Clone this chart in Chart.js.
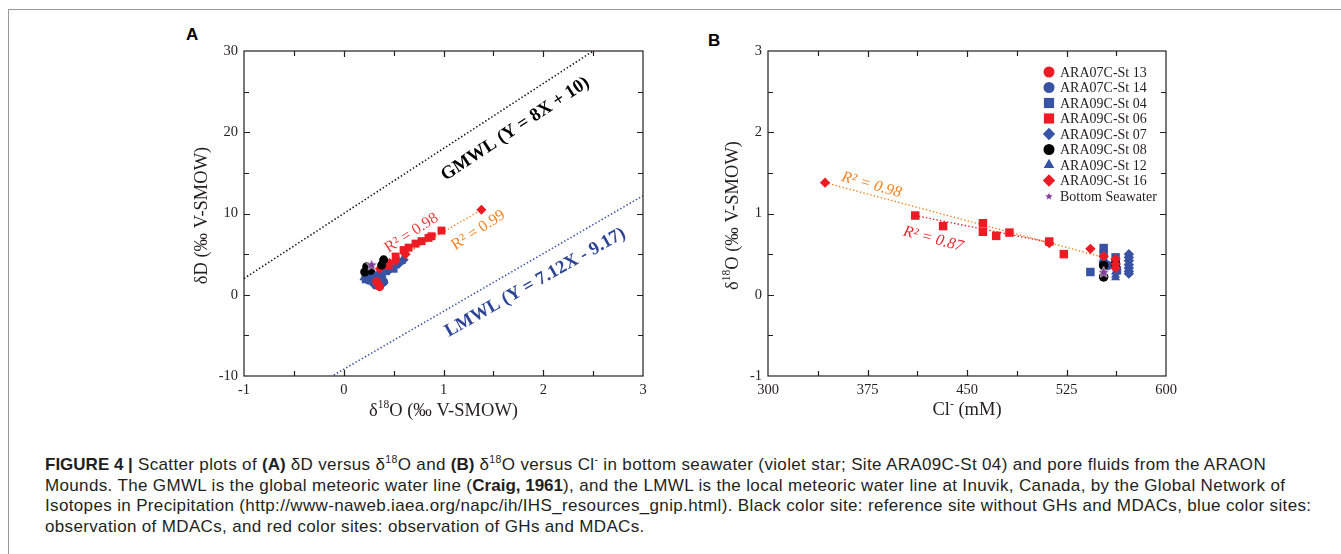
<!DOCTYPE html>
<html>
<head>
<meta charset="utf-8">
<script src="https://cdn.jsdelivr.net/npm/chart.js@4"></script>
<style>
  body { margin: 0; background: #fff; width: 1341px; height: 554px; overflow: hidden; position: relative;
         font-family: "Liberation Sans", Arial, sans-serif; }
  #frame { position: absolute; left: 8px; top: 9px; width: 1400px; height: 600px; border: 1px solid #9a9a9a; }
  canvas { position: absolute; top: 0; }
  #chartA { left: 150px; }
  #chartB { left: 680px; }
  .panel { position: absolute; font-weight: bold; font-size: 17px; color: #000; }
  #caption { position: absolute; left: 45px; top: 455px; font-size: 17px; letter-spacing: 0.35px; line-height: 20.6px; color: #231f20; white-space: nowrap; }
  #caption b { letter-spacing: 0; }
  #caption sup { font-size: 0.62em; line-height: 0; }
</style>
</head>
<body>
<div id="frame"></div>
<div class="panel" style="left:186px;top:25px">A</div>
<div class="panel" style="left:708px;top:31px">B</div>
<canvas id="chartA" width="520" height="430"></canvas>
<canvas id="chartB" width="520" height="430"></canvas>
<div id="caption">
<b>FIGURE 4 |</b> Scatter plots of <b>(A)</b> δD versus δ<sup>18</sup>O and <b>(B)</b> δ<sup>18</sup>O versus Cl<sup>-</sup> in bottom seawater (violet star; Site ARA09C-St 04) and pore fluids from the ARAON<br>
Mounds. The GMWL is the global meteoric water line (<b>Craig, 1961</b>), and the LMWL is the local meteoric water line at Inuvik, Canada, by the Global Network of<br>
Isotopes in Precipitation (http://www-naweb.iaea.org/napc/ih/IHS_resources_gnip.html). Black color site: reference site without GHs and MDACs, blue color sites:<br>
observation of MDACs, and red color sites: observation of GHs and MDACs.
</div>
<script>
const SERIF = '"Liberation Serif", "Times New Roman", serif';
const INK = '#231f20';
const RED = '#ed1c24', BLUE = '#3953a4', ORANGE = '#f58220', PURPLE = '#7f3f98';

// legend order (panel B)
const siteNames = ['ARA07C-St 13', 'ARA07C-St 14', 'ARA09C-St 04', 'ARA09C-St 06', 'ARA09C-St 07',
                   'ARA09C-St 08', 'ARA09C-St 12', 'ARA09C-St 16', 'Bottom Seawater'];

// ---- Panel A: δ18O (x) vs δD (y)
const A_St13_d18O = [0.36, 0.33];
const A_St13_dD   = [1.0, 1.6];
const A_St14_d18O = [0.25, 0.30, 0.28, 0.35, 0.32, 0.38, 0.40, 0.30];
const A_St14_dD   = [1.8, 1.5, 2.3, 1.9, 1.2, 2.6, 1.6, 2.0];
const A_St04_d18O = [0.22, 0.28, 0.35, 0.42, 0.50, 0.30];
const A_St04_dD   = [1.9, 2.2, 2.4, 2.9, 3.2, 1.6];
const A_St06_d18O = [0.45, 0.52, 0.60, 0.65, 0.72, 0.78, 0.85, 0.88, 0.98];
const A_St06_dD   = [3.6, 4.7, 5.5, 5.8, 6.3, 6.6, 7.0, 7.2, 7.9];
const A_St07_d18O = [0.27, 0.33, 0.38, 0.45, 0.55, 0.60, 0.40];
const A_St07_dD   = [2.0, 1.9, 2.2, 3.0, 3.8, 4.3, 1.5];
const A_St08_d18O = [0.21, 0.23, 0.38, 0.40, 0.27];
const A_St08_dD   = [2.8, 3.45, 3.65, 4.3, 3.0];
const A_St12_d18O = [0.20, 0.25, 0.35, 0.48, 0.52, 0.58];
const A_St12_dD   = [2.1, 2.5, 2.7, 3.4, 3.6, 4.1];
const A_St16_d18O = [0.36, 0.46, 0.52, 0.62, 1.38];
const A_St16_dD   = [3.2, 3.9, 4.2, 5.0, 10.45];
const A_sw_d18O = [0.28];
const A_sw_dD   = [3.7];
// meteoric water lines and fits (end points)
const gmwl_x = [-1, 2.5],  gmwl_y = [2, 30];
const lmwl_x = [-0.1, 3],  lmwl_y = [-9.88, 12.19];
const A_fit06_x = [0.40, 0.98], A_fit06_y = [3.3, 7.9];
const A_fit16_x = [0.45, 1.38], A_fit16_y = [3.8, 10.45];

// ---- Panel B: Cl- (x) vs δ18O (y)
const B_St14_Cl = [553, 556];
const B_St14_d18O = [0.40, 0.36];
const B_St04_Cl = [543, 553, 553, 562, 562, 563];
const B_St04_d18O = [0.28, 0.575, 0.50, 0.46, 0.40, 0.30];
const B_St06_Cl = [411, 432, 462, 462, 472, 482, 512, 523];
const B_St06_d18O = [0.975, 0.845, 0.88, 0.775, 0.725, 0.765, 0.655, 0.50];
const B_St07_Cl = [572, 572, 572, 572, 572, 572, 572];
const B_St07_d18O = [0.50, 0.46, 0.42, 0.37, 0.33, 0.29, 0.26];
const B_St08_Cl = [553, 553, 562];
const B_St08_d18O = [0.36, 0.22, 0.38];
const B_St12_Cl = [562, 562, 562, 562];
const B_St12_d18O = [0.35, 0.28, 0.24, 0.21];
const B_St16_Cl = [343, 512, 543, 553, 562, 562, 562];
const B_St16_d18O = [1.38, 0.635, 0.565, 0.475, 0.44, 0.38, 0.33];
const B_sw_Cl = [553];
const B_sw_d18O = [0.28];
const B_fit06_x = [411, 512], B_fit06_y = [0.975, 0.645];
const B_fit16_x = [343, 553], B_fit16_y = [1.38, 0.46];

function makeStar(size, color) {
  const c = document.createElement('canvas');
  c.width = c.height = size;
  const g = c.getContext('2d');
  const R = size / 2 - 0.5, r = R * 0.45;
  g.beginPath();
  for (let i = 0; i < 10; i++) {
    const ang = -Math.PI / 2 + i * Math.PI / 5, rad = i % 2 ? r : R;
    g.lineTo(size / 2 + rad * Math.cos(ang), size / 2 + rad * Math.sin(ang) + 0.5);
  }
  g.closePath();
  g.fillStyle = color; g.fill();
  g.strokeStyle = 'rgba(255,255,255,0.8)'; g.lineWidth = 0.8; g.stroke();
  return c;
}

const siteStyle = {
  'ARA07C-St 13': { style: 'circle', color: RED },
  'ARA07C-St 14': { style: 'circle', color: BLUE },
  'ARA09C-St 04': { style: 'rect', color: BLUE },
  'ARA09C-St 06': { style: 'rect', color: RED },
  'ARA09C-St 07': { style: 'rectRot', color: BLUE },
  'ARA09C-St 08': { style: 'circle', color: '#000' },
  'ARA09C-St 12': { style: 'triangle', color: BLUE },
  'ARA09C-St 16': { style: 'rectRot', color: RED },
  'Bottom Seawater': { style: 'star', color: PURPLE }
};
const sizeA = { circle: 4.5, rect: 5.6, rectRot: 5, triangle: 5 };
const sizeB = { circle: 4.8, rect: 6, rectRot: 5.2, triangle: 5.2 };
const legendSize = { circle: 5.5, rect: 7.2, rectRot: 6.2, triangle: 6.2 };

function pts(xs, ys) { return xs.map((x, i) => ({ x, y: ys[i] })); }

function markers(name, xs, ys, sizes, starPx) {
  const s = siteStyle[name];
  const style = s.style === 'star' ? makeStar(starPx, s.color) : s.style;
  return { label: name, data: pts(xs, ys), pointStyle: style, pointRadius: sizes[s.style] || 5,
           backgroundColor: s.color, borderColor: s.color, borderWidth: 0, showLine: false };
}

function dotted(xs, ys, color, width) {
  return { data: pts(xs, ys), showLine: true, borderColor: color, borderWidth: width || 1.4,
           borderDash: [1.4, 2.2], pointRadius: 0, fill: false };
}

function linearAxis(min, max, step, pad, fit) {
  return {
    type: 'linear', min, max,
    ticks: { stepSize: step, padding: pad, color: INK, maxRotation: 0, font: { family: SERIF, size: 14.5 } },
    grid: { display: false, drawTicks: false },
    border: { display: false },
    afterFit: fit
  };
}

// text with superscript parts: [[text, sup], ...]
function drawRich(ctx, parts, cx, cy, size, style) {
  const f = (sz) => `${style || ''} ${sz}px ${SERIF}`;
  let w = 0;
  parts.forEach(([t, sup]) => { ctx.font = f(sup ? size * 0.62 : size); w += ctx.measureText(t).width; });
  let x = cx - w / 2;
  ctx.textAlign = 'left';
  ctx.textBaseline = 'middle';
  parts.forEach(([t, sup]) => {
    ctx.font = f(sup ? size * 0.62 : size);
    ctx.fillText(t, x, sup ? cy - size * 0.3 : cy);
    x += ctx.measureText(t).width;
  });
}

const axesFrame = {
  id: 'axesFrame',
  afterDraw(chart, args, o) {
    const { ctx, chartArea: a, scales } = chart;
    ctx.save();
    ctx.strokeStyle = INK;
    ctx.lineWidth = 1.2;
    ctx.strokeRect(a.left, a.top, a.right - a.left, a.bottom - a.top);
    // inward ticks on all four sides
    const tickMarks = (scale, horiz) => {
      const vals = scale.ticks.map(t => t.value);
      const marks = [];
      vals.forEach((v, i) => {
        if (i > 0 && i < vals.length - 1) marks.push([v, 6]);
        if (i < vals.length - 1) marks.push([(v + vals[i + 1]) / 2, 5]);
      });
      ctx.beginPath();
      marks.forEach(([v, len]) => {
        const p = Math.round(scale.getPixelForValue(v)) + 0.5;
        if (horiz) {
          ctx.moveTo(p, a.bottom); ctx.lineTo(p, a.bottom - len);
          ctx.moveTo(p, a.top); ctx.lineTo(p, a.top + len);
        } else {
          ctx.moveTo(a.left, p); ctx.lineTo(a.left + len, p);
          ctx.moveTo(a.right, p); ctx.lineTo(a.right - len, p);
        }
      });
      ctx.stroke();
    };
    tickMarks(scales.x, true);
    tickMarks(scales.y, false);

    // axis titles
    ctx.fillStyle = INK;
    drawRich(ctx, o.xTitle, (a.left + a.right) / 2, a.bottom + o.xTitleGap, 18.5);
    ctx.save();
    ctx.translate(a.left - o.yTitleGap, (a.top + a.bottom) / 2 + 2);
    ctx.rotate(-Math.PI / 2);
    drawRich(ctx, o.yTitle, 0, 0, 18.5);
    ctx.restore();

    // rotated annotations anchored in data space
    o.notes.forEach(n => {
      ctx.save();
      ctx.translate(scales.x.getPixelForValue(n.x), scales.y.getPixelForValue(n.y));
      ctx.rotate(n.angle * Math.PI / 180);
      ctx.fillStyle = n.color;
      ctx.font = `${n.style} ${n.size}px ${SERIF}`;
      ctx.textAlign = 'center';
      ctx.textBaseline = 'middle';
      ctx.fillText(n.text, 0, 0);
      ctx.restore();
    });

    // legend
    if (o.legend) {
      const L = o.legend;
      siteNames.forEach((name, i) => {
        const s = siteStyle[name];
        const y = a.top + L.top + i * L.step;
        const x = a.right - L.right;
        ctx.fillStyle = s.color;
        const style = s.style === 'star' ? makeStar(10, s.color) : s.style;
        Chart.helpers.drawPoint(ctx, { pointStyle: style, radius: legendSize[s.style] || 5, borderWidth: 0, rotation: 0 }, x, y);
        ctx.fillStyle = INK;
        ctx.font = `14px ${SERIF}`;
        ctx.textAlign = 'left';
        ctx.textBaseline = 'middle';
        ctx.fillText(name, x + 11, y + 1);
      });
    }
    ctx.restore();
  }
};

const baseOptions = (xAxis, yAxis, pad, frame) => ({
  responsive: false,
  animation: false,
  layout: { padding: pad },
  scales: { x: xAxis, y: yAxis },
  plugins: { legend: { display: false }, tooltip: { enabled: false }, axesFrame: frame }
});

// ---- Chart A
new Chart(document.getElementById('chartA'), {
  type: 'scatter',
  plugins: [axesFrame],
  data: {
    datasets: [
      markers('Bottom Seawater', A_sw_d18O, A_sw_dD, sizeA, 13),
      markers('ARA09C-St 08', A_St08_d18O, A_St08_dD, sizeA),
      markers('ARA09C-St 16', A_St16_d18O, A_St16_dD, sizeA),
      markers('ARA09C-St 06', A_St06_d18O, A_St06_dD, sizeA),
      markers('ARA07C-St 13', A_St13_d18O, A_St13_dD, sizeA),
      markers('ARA07C-St 14', A_St14_d18O, A_St14_dD, sizeA),
      markers('ARA09C-St 04', A_St04_d18O, A_St04_dD, sizeA),
      markers('ARA09C-St 07', A_St07_d18O, A_St07_dD, sizeA),
      markers('ARA09C-St 12', A_St12_d18O, A_St12_dD, sizeA),
      dotted(A_fit16_x, A_fit16_y, ORANGE),
      dotted(A_fit06_x, A_fit06_y, RED),
      dotted(gmwl_x, gmwl_y, '#111', 1.6),
      dotted(lmwl_x, lmwl_y, BLUE, 1.6)
    ]
  },
  options: baseOptions(
    linearAxis(-1, 3, 1, 5, s => { s.height = 54; }),
    linearAxis(-10, 30, 10, 6, s => { s.width = 94; }),
    { top: 51, right: 27, left: 0, bottom: 0 },
    {
      xTitle: [['δ'], ['18', true], ['O (‰ V-SMOW)']], xTitleGap: 35,
      yTitle: [['δD (‰ V-SMOW)']], yTitleGap: 42,
      notes: [
        { text: 'GMWL (Y = 8X + 10)', x: 1.72, y: 20.4, angle: -33.5, color: '#000', style: 'bold', size: 18.5 },
        { text: 'LMWL (Y = 7.12X - 9.17)', x: 1.92, y: 1.5, angle: -29.5, color: '#2e4496', style: 'bold', size: 18.5 },
        { text: 'R² = 0.98', x: 0.68, y: 7.6, angle: -33, color: '#ef3b3b', style: '', size: 16 },
        { text: 'R² = 0.99', x: 1.35, y: 7.95, angle: -33, color: ORANGE, style: '', size: 16 }
      ]
    })
});

// ---- Chart B
new Chart(document.getElementById('chartB'), {
  type: 'scatter',
  plugins: [axesFrame],
  data: {
    datasets: [
      markers('Bottom Seawater', B_sw_Cl, B_sw_d18O, sizeB, 13),
      markers('ARA09C-St 16', B_St16_Cl, B_St16_d18O, sizeB),
      markers('ARA09C-St 08', B_St08_Cl, B_St08_d18O, sizeB),
      markers('ARA09C-St 06', B_St06_Cl, B_St06_d18O, sizeB),
      markers('ARA09C-St 04', B_St04_Cl, B_St04_d18O, sizeB),
      markers('ARA09C-St 12', B_St12_Cl, B_St12_d18O, sizeB),
      markers('ARA09C-St 07', B_St07_Cl, B_St07_d18O, sizeB),
      markers('ARA07C-St 14', B_St14_Cl, B_St14_d18O, sizeB),
      dotted(B_fit16_x, B_fit16_y, ORANGE),
      dotted(B_fit06_x, B_fit06_y, RED)
    ]
  },
  options: baseOptions(
    linearAxis(300, 600, 75, 5, s => { s.height = 54; }),
    linearAxis(-1, 3, 1, 6, s => { s.width = 88; }),
    { top: 51, right: 34, left: 0, bottom: 0 },
    {
      xTitle: [['Cl'], ['-', true], [' (mM)']], xTitleGap: 34,
      yTitle: [['δ'], ['18', true], ['O (‰ V-SMOW)']], yTitleGap: 35,
      notes: [
        { text: 'R² = 0.98', x: 378, y: 1.35, angle: 16, color: ORANGE, style: 'italic', size: 16 },
        { text: 'R² = 0.87', x: 424.5, y: 0.685, angle: 15, color: '#e8262b', style: 'italic', size: 16 }
      ],
      legend: { top: 21, step: 15.5, right: 117 }
    })
});
</script>
</body>
</html>
